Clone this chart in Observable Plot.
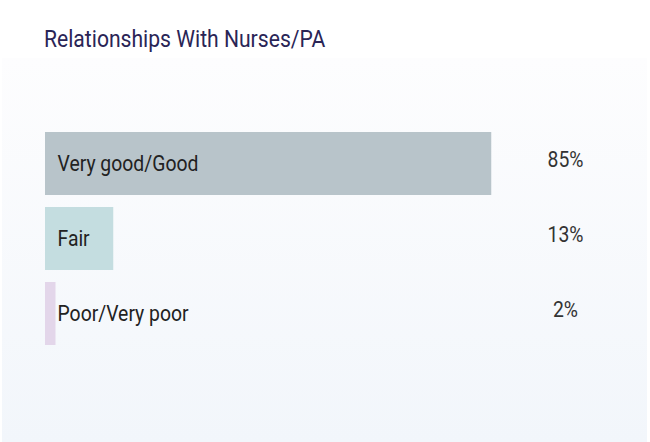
<!DOCTYPE html>
<html>
<head>
<meta charset="utf-8">
<script src="https://cdn.jsdelivr.net/npm/d3@7"></script>
<script src="https://cdn.jsdelivr.net/npm/@observablehq/plot@0.6"></script>
<style>
  html, body { margin: 0; padding: 0; background: #ffffff; }
  body { width: 650px; height: 442px; overflow: hidden; font-family: Roboto, "Liberation Sans", sans-serif; }
  #title { height: 58px; box-sizing: border-box; padding: 25px 0 0 44px; font-size: 24px; color: #2a2556; line-height: 28px; white-space: nowrap; }
  #title span { display: inline-block; transform: scaleX(0.88); transform-origin: 0 50%; }
  #panel { margin-left: 2px; width: 645px; height: 384px; background: linear-gradient(#fdfdfe, #f2f6fb); }
  #panel svg { display: block; background: transparent; }
</style>
</head>
<body>
<div id="title"><span>Relationships With Nurses/PA</span></div>
<div id="panel"></div>
<script>
const categories = ["Very good/Good", "Fair", "Poor/Very poor"];
const values = [85, 13, 2];
const barColors = ["#b8c4ca", "#c4dde0", "#e3d6ea"];
const valueLabels = ["85%", "13%", "2%"];

const data = categories.map((c, i) => ({category: c, value: values[i], label: valueLabels[i], color: barColors[i]}));

const chart = Plot.plot({
  width: 645,
  height: 384,
  marginLeft: 43,
  marginRight: 77,
  marginTop: 0,
  marginBottom: 0,
  style: {background: "transparent", fontFamily: "Roboto, sans-serif"},
  x: {domain: [0, 100], axis: null},
  y: {domain: categories, range: [74, 287], paddingInner: 0.16, paddingOuter: 0, axis: null},
  marks: [
    Plot.barX(data, {x: "value", y: "category", fill: "color"}),
    Plot.text(data, {x: 0, y: "category", text: "category", textAnchor: "start", dx: 12, dy: 0, fontSize: 22, fill: "#222222"}),
    Plot.text(data, {x: 100, y: "category", text: "label", textAnchor: "middle", dx: -5, dy: -4, fontSize: 22, fill: "#333333"})
  ]
});

// condensed look: squeeze glyphs horizontally around each text's anchor point
chart.querySelectorAll("text").forEach(t => {
  const tr = t.getAttribute("transform");
  if (tr) {
    t.setAttribute("transform", tr + " scale(0.88,1)");
  } else {
    const x = +t.getAttribute("x") || 0, y = +t.getAttribute("y") || 0;
    t.removeAttribute("x"); t.removeAttribute("y");
    t.setAttribute("transform", `translate(${x},${y}) scale(0.88,1)`);
  }
});
document.getElementById("panel").appendChild(chart);
</script>
</body>
</html>
